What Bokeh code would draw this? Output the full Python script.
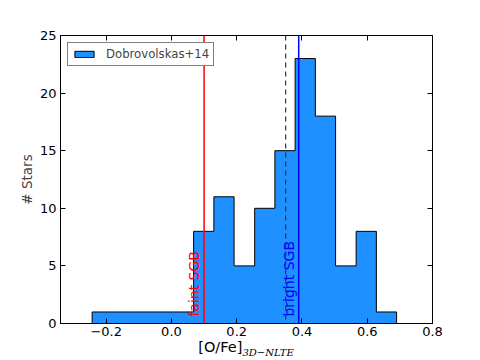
import math
from bokeh.plotting import figure
from bokeh.layouts import column
from bokeh.models import (Span, LinearAxis, FixedTicker, CustomJSTickFormatter,
                          Legend, LegendItem, Range1d, Div)
from bokeh.embed import file_html
from bokeh.resources import INLINE
from bokeh.core.properties import value

# ---- data ----
bin_edges = [-0.243, -0.181, -0.119, -0.056, 0.006, 0.068, 0.130, 0.192,
             0.255, 0.317, 0.379, 0.441, 0.503, 0.566, 0.628, 0.690]
counts = [1, 1, 1, 1, 1, 8, 11, 5, 10, 15, 23, 18, 5, 8, 1]
faint_sgb = 0.10
bright_sgb = 0.39
mean_line = 0.35
x_ticks = [-0.2, 0.0, 0.2, 0.4, 0.6, 0.8]
y_ticks = [0, 5, 10, 15, 20, 25]
series_label = "Dobrovolskas+14"
faint_text = "faint SGB"
bright_text = "bright SGB"
x_label_main = "[O/Fe]"
x_label_sub = "3D\u2212NLTE"
y_label = "# Stars"

FONT = "DejaVu Sans"

# step outline (stepfilled histogram)
xs = [bin_edges[0]]
ys = [0]
for i, c in enumerate(counts):
    xs += [bin_edges[i], bin_edges[i + 1]]
    ys += [c, c]
xs.append(bin_edges[-1])
ys.append(0)

p = figure(width=480, height=342, x_range=Range1d(-0.34, 0.8), y_range=Range1d(0, 25),
           output_backend="svg", toolbar_location=None,
           x_axis_type=None, y_axis_type=None,
           min_border_left=60, min_border_right=48, min_border_top=35, min_border_bottom=19)
p.grid.visible = False
p.outline_line_color = "black"
p.outline_line_width = 1
p.background_fill_color = "white"
p.border_fill_color = "white"

xfmt = CustomJSTickFormatter(code="""
    if (Math.abs(tick) < 1e-9) return '0.0';
    return tick < 0 ? '\\u2212' + (-tick).toFixed(1) : tick.toFixed(1);
""")
blank = CustomJSTickFormatter(code="return '';")


def style_axis(ax, labels=True):
    ax.major_tick_in = 5
    ax.major_tick_out = 0
    ax.minor_tick_in = 0
    ax.minor_tick_out = 0
    ax.axis_line_color = "black"
    ax.major_tick_line_color = "black"
    ax.major_label_text_font = FONT
    ax.major_label_text_font_size = "13px" if labels else "0px"
    ax.major_label_text_color = "black"
    ax.axis_label_text_font = FONT
    ax.axis_label_text_font_style = "normal"


bottom = LinearAxis(ticker=FixedTicker(ticks=x_ticks), formatter=xfmt)
style_axis(bottom)
bottom.major_label_standoff = 3
p.add_layout(bottom, "below")

left = LinearAxis(ticker=FixedTicker(ticks=y_ticks), axis_label=y_label)
style_axis(left)
left.major_label_standoff = 4
left.axis_label_text_font_size = "13.5px"
left.axis_label_standoff = 2
p.add_layout(left, "left")

top = LinearAxis(ticker=FixedTicker(ticks=x_ticks), formatter=blank)
style_axis(top, labels=False)
top.major_label_standoff = 0
p.add_layout(top, "above")

right = LinearAxis(ticker=FixedTicker(ticks=y_ticks), formatter=blank)
style_axis(right, labels=False)
right.major_label_standoff = 0
p.add_layout(right, "right")

hist = p.patch(xs, ys, fill_color="#1E90FF", line_color="black", line_width=1)

p.add_layout(Span(location=mean_line, dimension="height", line_color="#333333",
                  line_width=1.2, line_dash="5 4"))
p.add_layout(Span(location=faint_sgb, dimension="height", line_color="red", line_width=1.5))
p.add_layout(Span(location=bright_sgb, dimension="height", line_color="blue", line_width=1.5))

ann_y = 0.6
p.text(x=[faint_sgb], y=[ann_y], text=[faint_text], angle=math.pi / 2,
       text_align="left", text_baseline="bottom", text_color="red",
       text_font=value(FONT), text_font_size="14px", x_offset=-2)
p.text(x=[bright_sgb], y=[ann_y], text=[bright_text], angle=math.pi / 2,
       text_align="left", text_baseline="bottom", text_color="blue",
       text_font=value(FONT), text_font_size="14px", x_offset=-2)

legend = Legend(items=[LegendItem(label=series_label, renderers=[hist])],
                location="top_left", margin=7, padding=4, spacing=0,
                label_standoff=10, glyph_width=24, glyph_height=8, label_height=14,
                label_text_font=FONT, label_text_font_size="11.7px",
                border_line_color="black", border_line_width=1,
                background_fill_alpha=1.0)
p.add_layout(legend)

# x-axis label with italic subscript, as real HTML text under the frame
xlabel_html = (
    '<span style="position:relative; top:-4px; white-space:nowrap;">'
    + x_label_main
    + '<sub style="font-family:\'DejaVu Serif\'; font-style:italic; font-size:10px;">'
    + x_label_sub + '</sub></span>'
)
xlabel = Div(text=xlabel_html, width=372, height=18, margin=(0, 0, 0, 60),
             styles={"text-align": "center", "font-family": FONT,
                     "font-size": "14.5px", "line-height": "18px", "color": "black",
                     "overflow": "visible"})

layout = column(p, xlabel, spacing=0)

open("out.html", "w").write(file_html(layout, INLINE))
